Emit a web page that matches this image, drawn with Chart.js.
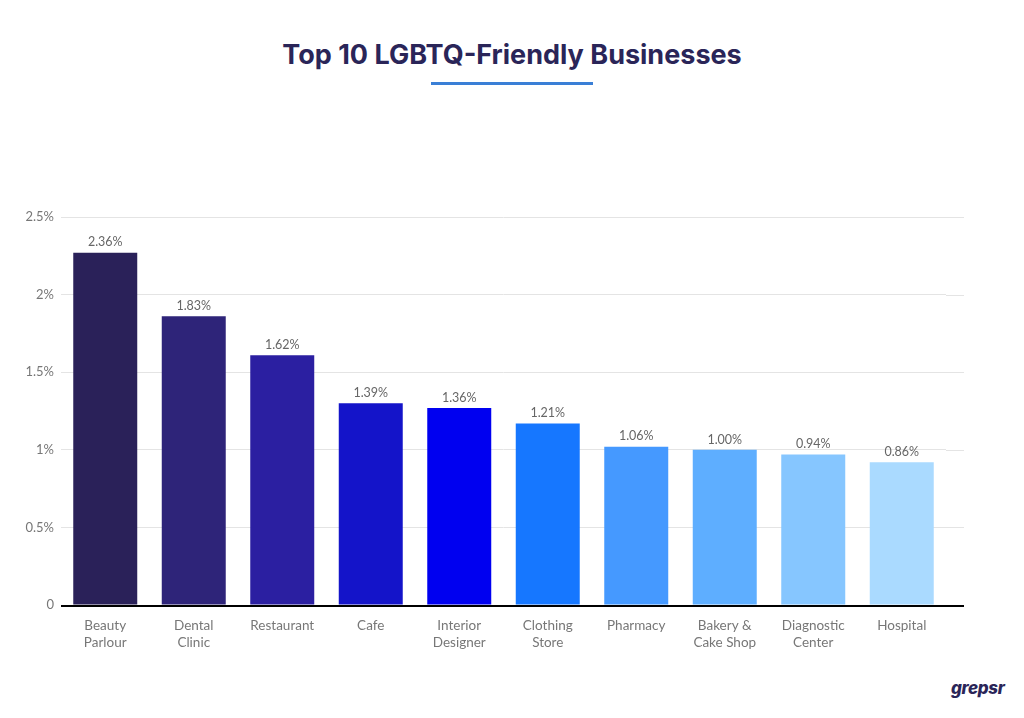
<!DOCTYPE html>
<html>
<head>
<meta charset="utf-8">
<script src="https://cdn.jsdelivr.net/npm/chart.js@4.4.1/dist/chart.umd.min.js"></script>
<style>
  html, body { margin: 0; padding: 0; background: #fff; }
  body { width: 1024px; height: 718px; position: relative; overflow: hidden; font-family: Lato, "Open Sans", sans-serif; }
  #title { position: absolute; top: 38px; left: 0; width: 1024px; text-align: center;
           font-family: Inter, Lato, sans-serif; font-weight: 700; font-size: 27px; color: #2a2558; letter-spacing: 0px; }
  #rule { position: absolute; top: 82px; left: 431px; width: 162px; height: 3px; background: #3a7fd6; }
  #logo { position: absolute; top: 678px; left: 951px; font-family: Inter, Lato, sans-serif; font-weight: 800;
          font-style: italic; font-size: 17px; color: #2a2558; letter-spacing: -0.3px; }
  #wrap { position: absolute; left: 0; top: 190px; width: 1000px; height: 475px; }
</style>
</head>
<body>
<div id="title">Top 10 LGBTQ-Friendly Businesses</div>
<div id="rule"></div>
<div id="wrap"><canvas id="chart"></canvas></div>
<div id="logo">grepsr</div>
<script>
// categories (multi-line x labels)
var categories = [
    ['Beauty', 'Parlour'], ['Dental', 'Clinic'], 'Restaurant', 'Cafe', ['Interior', 'Designer'],
    ['Clothing', 'Store'], 'Pharmacy', ['Bakery &', 'Cake Shop'], ['Diagnostic', 'Center'], 'Hospital'
];
// bar heights as drawn in the picture (%)
var barValues = [2.27, 1.86, 1.61, 1.30, 1.27, 1.17, 1.02, 1.00, 0.97, 0.92];
// value labels printed above the bars
var valueLabels = ['2.36%', '1.83%', '1.62%', '1.39%', '1.36%', '1.21%', '1.06%', '1.00%', '0.94%', '0.86%'];
var barColors = ['#2a2159', '#2e2479', '#2b1fa1', '#1414c9', '#0000f0', '#1677ff', '#4599ff', '#5eaeff', '#86c6ff', '#aadaff'];
var yTicks = [0, 0.5, 1, 1.5, 2, 2.5];

var GRID_EXTRA = 18; // grid + axis run a little past the last bar

var barLabels = {
    id: 'barLabels',
    beforeDatasetsDraw: function(chart) {
        var ctx = chart.ctx, area = chart.chartArea, y = chart.scales.y;
        ctx.save();
        ctx.strokeStyle = '#e4e4e4';
        ctx.lineWidth = 1;
        yTicks.forEach(function(v) {
            if (v === 0) return;
            var py = Math.round(y.getPixelForValue(v)) + 0.5;
            ctx.beginPath();
            ctx.moveTo(area.right, py);
            ctx.lineTo(area.right + GRID_EXTRA, py);
            ctx.stroke();
        });
        ctx.restore();
    },
    afterDatasetsDraw: function(chart) {
        var ctx = chart.ctx;
        var meta = chart.getDatasetMeta(0);
        ctx.save();
        ctx.font = '12.5px Lato, sans-serif';
        ctx.fillStyle = '#666';
        ctx.textAlign = 'center';
        ctx.textBaseline = 'bottom';
        meta.data.forEach(function(bar, i) {
            ctx.fillText(valueLabels[i], bar.x, bar.y - 4);
        });
        // baseline axis, full width
        var area = chart.chartArea;
        var py = Math.round(chart.scales.y.getPixelForValue(0)) + 1;
        ctx.strokeStyle = '#000';
        ctx.lineWidth = 2;
        ctx.beginPath();
        ctx.moveTo(area.left, py);
        ctx.lineTo(area.right + GRID_EXTRA, py);
        ctx.stroke();
        ctx.restore();
    }
};

new Chart(document.getElementById('chart'), {
    type: 'bar',
    data: {
        labels: categories,
        datasets: [{
            data: barValues,
            backgroundColor: barColors,
            categoryPercentage: 1,
            barPercentage: 0.723
        }]
    },
    options: {
        responsive: true,
        maintainAspectRatio: false,
        animation: false,
        layout: { padding: { top: 27, right: 54, left: 0, bottom: 0 } },
        plugins: { legend: { display: false }, tooltip: { enabled: false } },
        scales: {
            x: {
                grid: { display: false },
                border: { display: false },
                ticks: { color: '#777', font: { family: 'Lato, sans-serif', size: 13.5 }, padding: 5, maxRotation: 0, autoSkip: false },
                afterFit: function(scale) { scale.height = 60; }
            },
            y: {
                min: 0, max: 2.5,
                afterBuildTicks: function(scale) { scale.ticks = yTicks.map(function(v) { return { value: v }; }); },
                grid: { color: function(c) { return c.tick.value === 0 ? 'rgba(0,0,0,0)' : '#e4e4e4'; }, drawTicks: false },
                border: { display: false },
                ticks: {
                    color: '#777', font: { family: 'Lato, sans-serif', size: 13 }, padding: 7,
                    callback: function(v) { return v === 0 ? '0' : v + '%'; }
                },
                afterFit: function(scale) { scale.width = 61; }
            }
        }
    },
    plugins: [barLabels]
});
</script>
</body>
</html>
